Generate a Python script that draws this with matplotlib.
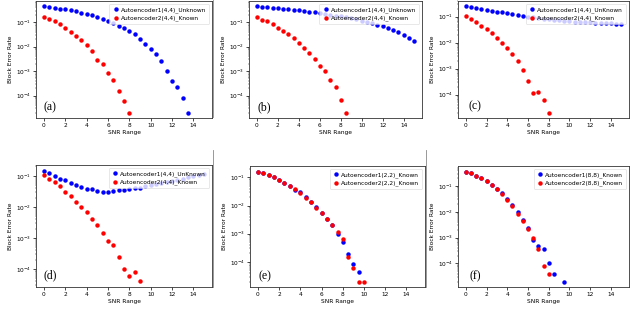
import matplotlib
matplotlib.use("Agg")
import matplotlib.pyplot as plt
import numpy as np
from matplotlib.lines import Line2D

# ---------------- data ----------------
snr_grid = np.arange(0, 15.5, 0.5)

a_blue = [0.447, 0.437, 0.394, 0.359, 0.339, 0.309, 0.282, 0.240, 0.209, 0.191,
          0.166, 0.138, 0.117, 0.0891, 0.0733, 0.0575, 0.0457, 0.0316, 0.0204,
          0.0129, 0.00813, 0.0049, 0.00269, 0.00102, 4.1e-4, 2.2e-4, 8e-5, 2e-5]
a_red = [0.170, 0.132, 0.110, 0.0813, 0.0603, 0.0389, 0.0282, 0.0186, 0.0117,
         0.0066, 0.00295, 0.0019, 8.5e-4, 4.4e-4, 1.6e-4, 6e-5, 2e-5]

b_blue = [0.447, 0.437, 0.407, 0.398, 0.372, 0.363, 0.339, 0.316, 0.309, 0.295,
          0.269, 0.257, 0.240, 0.219, 0.204, 0.186, 0.174, 0.158, 0.145, 0.132,
          0.117, 0.100, 0.0891, 0.0776, 0.0692, 0.0589, 0.0490, 0.0389, 0.0288,
          0.0224, 0.0170]
b_red = [0.158, 0.129, 0.110, 0.0813, 0.0589, 0.0447, 0.0324, 0.0219, 0.0145,
         0.0085, 0.0054, 0.0031, 0.00155, 0.001, 4.5e-4, 2.2e-4, 6.5e-5, 2e-5]

c_blue = [0.251, 0.234, 0.214, 0.204, 0.186, 0.170, 0.158, 0.148, 0.135, 0.123,
          0.115, 0.110, 0.100, 0.0955, 0.0891, 0.0851, 0.0813, 0.0776, 0.0741,
          0.0708, 0.0676, 0.0646, 0.0631, 0.0617, 0.0603, 0.0589, 0.0575, 0.0562,
          0.0550, 0.0537, 0.0525]
c_red = [0.107, 0.0794, 0.0646, 0.0447, 0.0324, 0.0229, 0.0148, 0.0093, 0.006,
         0.0036, 0.002, 8.9e-4, 3.2e-4, 1.15e-4, 1.3e-4, 6e-5, 2e-5]

d_blue = [0.148, 0.123, 0.102, 0.0813, 0.0708, 0.0575, 0.0501, 0.0437, 0.0372,
          0.0372, 0.0331, 0.0309, 0.0309, 0.0331, 0.0339, 0.0347, 0.0372, 0.0398,
          0.0417, 0.0457, 0.0501, 0.0537, 0.0575, 0.0646, 0.0692, 0.0759, 0.0813,
          0.0912, 0.0977, 0.105, 0.112]
d_red = [0.105, 0.0813, 0.0617, 0.0457, 0.0309, 0.0224, 0.0141, 0.0098, 0.0069,
         0.0041, 0.0026, 0.0014, 7.9e-4, 5.9e-4, 2.5e-4, 1e-4, 6e-5, 8e-5, 4e-5]

e_blue = [0.162, 0.141, 0.120, 0.100, 0.0776, 0.0631, 0.049, 0.036, 0.0295,
          0.0209, 0.0138, 0.0091, 0.0055, 0.0032, 0.002, 9.5e-4, 5.2e-4, 1.9e-4,
          8.5e-5, 4.2e-5]
e_red = [0.162, 0.141, 0.120, 0.100, 0.0776, 0.0631, 0.049, 0.038, 0.0275,
         0.0178, 0.0138, 0.0085, 0.0055, 0.0032, 0.002, 0.00115, 6.6e-4, 1.45e-4,
         6e-5, 2e-5, 2e-5]

f_blue_x = [0, 0.5, 1, 1.5, 2, 2.5, 3, 3.5, 4, 4.5, 5, 5.5, 6, 6.5, 7, 7.5, 8,
            8.5, 9.5]
f_blue = [0.363, 0.309, 0.251, 0.204, 0.151, 0.112, 0.0794, 0.0537, 0.0324,
          0.0182, 0.0098, 0.0048, 0.0023, 8.3e-4, 4.8e-4, 3.5e-4, 1e-4, 4e-5, 2e-5]
f_red = [0.363, 0.309, 0.251, 0.204, 0.151, 0.112, 0.0741, 0.049, 0.0295,
         0.0166, 0.0083, 0.0045, 0.0021, 9.3e-4, 3.5e-4, 8e-5, 4e-5]

labels_a = ["Autoencoder1(4,4)_Unknown", "Autoencoder2(4,4)_Known"]
labels_b = ["Autoencoder1(4,4)_Unknown", "Autoencoder2(4,4)_Known"]
labels_c = ["Autoencoder1(4,4)_UnKnown", "Autoencoder2(4,4)_Known"]
labels_d = ["Autoencoder1(4,4)_UnKnown", "Autoencoder2(4,4)_Known"]
labels_e = ["Autoencoder1(2,2)_Known", "Autoencoder2(2,2)_Known"]
labels_f = ["Autoencoder1(8,8)_Known", "Autoencoder2(8,8)_Known"]

panel_tags = ["(a)", "(b)", "(c)", "(d)", "(e)", "(f)"]
xticks = [0, 2, 4, 6, 8, 10, 12, 14]

# ---------------- figure ----------------
W, H = 640, 314
fig = plt.figure(figsize=(6.4, 3.14), dpi=100)

def px_axes(left, top, right, bottom):
    return fig.add_axes([left / W, 1 - bottom / H, (right - left) / W, (bottom - top) / H])

boxes = [
    (36, 1, 212, 118),
    (249, 1, 422, 118),
    (458, 1, 629, 118),
    (36, 165, 212, 287),
    (250, 166, 425, 287),
    (458, 166, 629, 287),
]
tag_pos = [(0.04, 0.095), (0.052, 0.095), (0.064, 0.10),
           (0.04, 0.098), (0.05, 0.09), (0.07, 0.09)]

series = [
    (snr_grid[:len(a_blue)], a_blue, snr_grid[:len(a_red)], a_red, labels_a),
    (snr_grid[:len(b_blue)], b_blue, snr_grid[:len(b_red)], b_red, labels_b),
    (snr_grid[:len(c_blue)], c_blue, snr_grid[:len(c_red)], c_red, labels_c),
    (snr_grid[:len(d_blue)], d_blue, snr_grid[:len(d_red)], d_red, labels_d),
    (snr_grid[:len(e_blue)], e_blue, snr_grid[:len(e_red)], e_red, labels_e),
    (f_blue_x, f_blue, snr_grid[:len(f_red)], f_red, labels_f),
]

FS = 4.2
for i, (box, (xb, yb, xr, yr, labs)) in enumerate(zip(boxes, series)):
    ax = px_axes(*box)
    ax.plot(xb, yb, 'o', color='blue', ms=3.2, mew=0, label=labs[0])
    ax.plot(xr, yr, 'o', color='red', ms=3.2, mew=0, label=labs[1])
    ax.set_yscale('log')
    ax.set_xlim(-0.75, 15.75)
    ax.set_xticks(xticks)
    ax.tick_params(axis='both', which='major', labelsize=FS, length=2, width=0.5, pad=1.5)
    ax.tick_params(axis='y', which='minor', length=1, width=0.3)
    ax.set_xlabel("SNR Range", fontsize=FS, labelpad=1.5)
    ax.set_ylabel("Block Error Rate", fontsize=FS, labelpad=2)
    for s in ax.spines.values():
        s.set_linewidth(0.6)
        s.set_color('#333333')
    ax.legend(loc='upper right', fontsize=FS, handletextpad=0.3, borderpad=0.5,
              labelspacing=0.5, handlelength=1.2, framealpha=0.8,
              edgecolor='#cccccc', fancybox=True).get_frame().set_linewidth(0.4)
    tx, ty = tag_pos[i]
    ax.text(tx, ty, panel_tags[i], transform=ax.transAxes, ha='left', va='center',
            fontsize=8.5, family='Liberation Serif')

# thin borders of the original sub-images
for (x, y0, y1) in [(213, 0, 117), (213, 150, 287), (426, 150, 287)]:
    fig.add_artist(Line2D([x / W, x / W], [1 - y0 / H, 1 - y1 / H],
                          transform=fig.transFigure, color='#888888', lw=0.6))

fig.savefig("out.png", dpi=100)
